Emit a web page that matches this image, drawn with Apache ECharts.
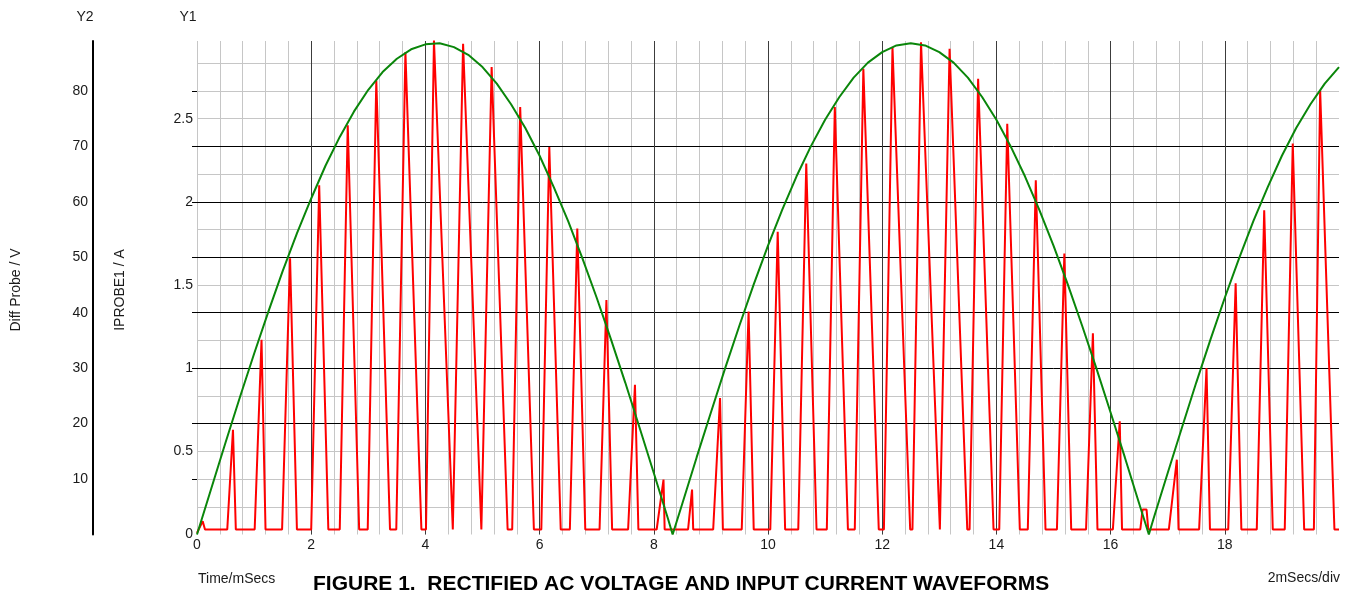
<!DOCTYPE html>
<html>
<head>
<meta charset="utf-8">
<script src="https://cdn.jsdelivr.net/npm/echarts@6/dist/echarts.min.js"></script>
<style>
html,body{margin:0;padding:0;background:#fff;}
#chart{width:1348px;height:593px;}
</style>
</head>
<body>
<div id="chart"></div>
<script>
// Diff Probe voltage (V) vs time (ms)
const voltage = [
  [0,0],[0.25,8.3],[0.5,16.6],[0.75,24.7],[1,32.6],[1.25,40.2],[1.5,47.5],[1.75,54.3],[2,60.6],
  [2.25,66.5],[2.5,71.7],[2.75,76.3],[3,80.2],[3.25,83.4],[3.5,85.8],[3.75,87.5],[4,88.4],
  [4.25,88.6],[4.5,87.9],[4.75,86.5],[5,84.3],[5.25,81.3],[5.5,77.6],[5.75,73.3],[6,68.3],
  [6.25,62.6],[6.5,56.5],[6.75,49.8],[7,42.7],[7.25,35.2],[7.5,27.4],[7.75,19.3],[8,11.1],
  [8.25,2.8],[8.33,0],[8.5,5.6],[8.75,13.9],[9,22.0],[9.25,30.0],[9.5,37.7],[9.75,45.1],
  [10,52.1],[10.25,58.6],[10.5,64.6],[10.75,70.0],[11,74.8],[11.25,78.9],[11.5,82.4],
  [11.75,85.1],[12,87.0],[12.25,88.2],[12.5,88.6],[12.75,88.2],[13,87.0],[13.25,85.1],
  [13.5,82.4],[13.75,78.9],[14,74.8],[14.25,70.0],[14.5,64.6],[14.75,58.6],[15,52.1],
  [15.25,45.1],[15.5,37.7],[15.75,30.0],[16,22.0],[16.25,13.9],[16.5,5.6],[16.67,0],
  [16.75,2.8],[17,11.1],[17.25,19.3],[17.5,27.4],[17.75,35.2],[18,42.7],[18.25,49.8],
  [18.5,56.5],[18.75,62.6],[19,68.3],[19.25,73.3],[19.5,77.6],[19.75,81.3],[20,84.3]
];

// IPROBE1 current (A) vs time (ms)
const current = [
  [0,0.01],[0.1,0.08],[0.14,0.03],
  [0.53,0.03],[0.63,0.63],[0.68,0.03],
  [1.01,0.03],[1.13,1.17],[1.20,0.03],
  [1.49,0.03],[1.63,1.66],[1.75,0.03],
  [2.00,0.03],[2.14,2.10],[2.30,0.03],
  [2.50,0.03],[2.64,2.46],[2.84,0.03],
  [2.99,0.03],[3.14,2.73],[3.38,0.03],
  [3.49,0.03],[3.65,2.90],[3.93,0.03],
  [4.01,0.03],[4.15,2.97],[4.48,0.03],
  [4.51,0.03],[4.66,2.95],[4.98,0.03],
  [5.01,0.03],[5.16,2.81],[5.44,0.03],
  [5.52,0.03],[5.66,2.57],[5.90,0.03],
  [6.03,0.03],[6.17,2.33],[6.37,0.03],
  [6.53,0.03],[6.66,1.84],[6.80,0.03],
  [7.05,0.03],[7.17,1.41],[7.27,0.03],
  [7.55,0.03],[7.67,0.90],[7.73,0.03],
  [8.05,0.03],[8.17,0.33],[8.19,0.03],
  [8.60,0.03],[8.67,0.27],[8.69,0.03],
  [9.04,0.03],[9.16,0.82],[9.21,0.03],
  [9.54,0.03],[9.66,1.34],[9.75,0.03],
  [10.04,0.03],[10.17,1.82],[10.30,0.03],
  [10.53,0.03],[10.67,2.23],[10.85,0.03],
  [11.03,0.03],[11.17,2.57],[11.40,0.03],
  [11.52,0.03],[11.67,2.80],[11.94,0.03],
  [12.03,0.03],[12.18,2.93],[12.49,0.03],
  [12.53,0.03],[12.68,2.96],[13.01,0.03],
  [13.03,0.03],[13.18,2.92],[13.49,0.03],
  [13.53,0.03],[13.68,2.74],[13.95,0.03],
  [14.05,0.03],[14.19,2.47],[14.41,0.03],
  [14.55,0.03],[14.69,2.13],[14.86,0.03],
  [15.06,0.03],[15.19,1.69],[15.31,0.03],
  [15.57,0.03],[15.69,1.21],[15.77,0.03],
  [16.04,0.03],[16.16,0.68],[16.20,0.03],
  [16.52,0.03],[16.56,0.15],[16.63,0.15],[16.66,0.03],
  [17.02,0.03],[17.16,0.45],[17.19,0.03],
  [17.55,0.03],[17.68,1.00],[17.74,0.03],
  [18.06,0.03],[18.19,1.51],[18.29,0.03],
  [18.56,0.03],[18.69,1.95],[18.84,0.03],
  [19.05,0.03],[19.19,2.35],[19.39,0.03],
  [19.56,0.03],[19.67,2.67],[19.92,0.03],
  [20.0,0.03]
];

const xRange = [0, 20];
const y1Range = [0, 2.967];
const y2Range = [0, 89];
const y2TickValues = [10, 20, 30, 40, 50, 60, 70, 80];

const FONT = '"Liberation Sans", Arial, sans-serif';
const labelStyle = {fontFamily: FONT, fontSize: 14, color: '#1a1a1a'};

const chart = echarts.init(document.getElementById('chart'), null, {renderer: 'canvas'});

chart.setOption({
  animation: false,
  backgroundColor: '#ffffff',
  grid: {left: 197, right: 9, top: 41, bottom: 58.5, containLabel: false},
  xAxis: [
    {
      type: 'value', min: xRange[0], max: xRange[1], interval: 2, z: 1,
      axisLine: {show: false, onZero: false}, axisTick: {show: false},
      axisLabel: Object.assign({margin: 4, showMaxLabel: false}, labelStyle),
      splitLine: {show: true, showMinLine: false, showMaxLine: false, lineStyle: {color: '#3c3c3c', width: 1}}
    },
    {
      type: 'value', min: xRange[0], max: xRange[1], interval: 0.4, z: 0,
      axisLine: {show: false, onZero: false}, axisTick: {show: false}, axisLabel: {show: false},
      splitLine: {show: true, showMaxLine: false, lineStyle: {color: '#c6c6c6', width: 1}}
    }
  ],
  yAxis: [
    {
      type: 'value', position: 'left', offset: 0, min: y1Range[0], max: y1Range[1], interval: 0.5,
      axisLine: {show: false, onZero: false}, axisTick: {show: false},
      axisLabel: Object.assign({margin: 4, showMaxLabel: false}, labelStyle),
      splitLine: {show: false}
    },
    {
      type: 'value', position: 'left', offset: 104, min: y2Range[0], max: y2Range[1], interval: 10,
      axisLine: {show: true, onZero: false, lineStyle: {color: '#000', width: 2}}, axisTick: {show: false},
      axisLabel: Object.assign({margin: 5, showMinLabel: false, showMaxLabel: false}, labelStyle),
      splitLine: {show: false}
    },
    {
      type: 'value', position: 'left', offset: 0, min: y2Range[0], max: y2Range[1], interval: 5, z: 0,
      axisLine: {show: false, onZero: false}, axisTick: {show: false}, axisLabel: {show: false},
      splitLine: {show: true, showMinLine: false, showMaxLine: false, lineStyle: {color: '#c6c6c6', width: 1}}
    },
    {
      type: 'value', position: 'left', offset: 0, min: y2Range[0], max: y2Range[1], interval: 10, z: 1,
      axisLine: {show: false, onZero: false},
      axisTick: {show: true, length: 5, customValues: y2TickValues, lineStyle: {color: '#000', width: 1}},
      axisLabel: {show: false},
      splitLine: {show: true, showMinLine: false, showMaxLine: false, lineStyle: {color: '#000', width: 1}}
    }
  ],
  series: [
    {
      name: 'IPROBE1', type: 'line', xAxisIndex: 0, yAxisIndex: 0, data: current,
      showSymbol: false, symbol: 'none', lineStyle: {color: '#ff0000', width: 2}, z: 3
    },
    {
      name: 'Diff Probe', type: 'line', xAxisIndex: 0, yAxisIndex: 1, data: voltage,
      showSymbol: false, symbol: 'none', lineStyle: {color: '#0a860a', width: 2}, z: 4
    }
  ],
  graphic: [
    {type: 'text', x: 85, y: 17, style: {text: 'Y2', font: '14px ' + FONT, fill: '#1a1a1a', align: 'center', verticalAlign: 'middle'}},
    {type: 'text', x: 188, y: 17, style: {text: 'Y1', font: '14px ' + FONT, fill: '#1a1a1a', align: 'center', verticalAlign: 'middle'}},
    {type: 'text', x: 16, y: 290, rotation: Math.PI / 2, style: {text: 'Diff Probe / V', font: '14px ' + FONT, fill: '#1a1a1a', align: 'center', verticalAlign: 'middle'}},
    {type: 'text', x: 120, y: 290, rotation: Math.PI / 2, style: {text: 'IPROBE1 / A', font: '14px ' + FONT, fill: '#1a1a1a', align: 'center', verticalAlign: 'middle'}},
    {type: 'text', x: 198, y: 579, style: {text: 'Time/mSecs', font: '14px ' + FONT, fill: '#1a1a1a', align: 'left', verticalAlign: 'middle'}},
    {type: 'text', x: 313, y: 584, style: {text: 'FIGURE 1.  RECTIFIED AC VOLTAGE AND INPUT CURRENT WAVEFORMS', font: 'bold 21px ' + FONT, fill: '#000', align: 'left', verticalAlign: 'middle'}},
    {type: 'text', x: 1340, y: 578, style: {text: '2mSecs/div', font: '14px ' + FONT, fill: '#1a1a1a', align: 'right', verticalAlign: 'middle'}}
  ]
});
</script>
</body>
</html>
